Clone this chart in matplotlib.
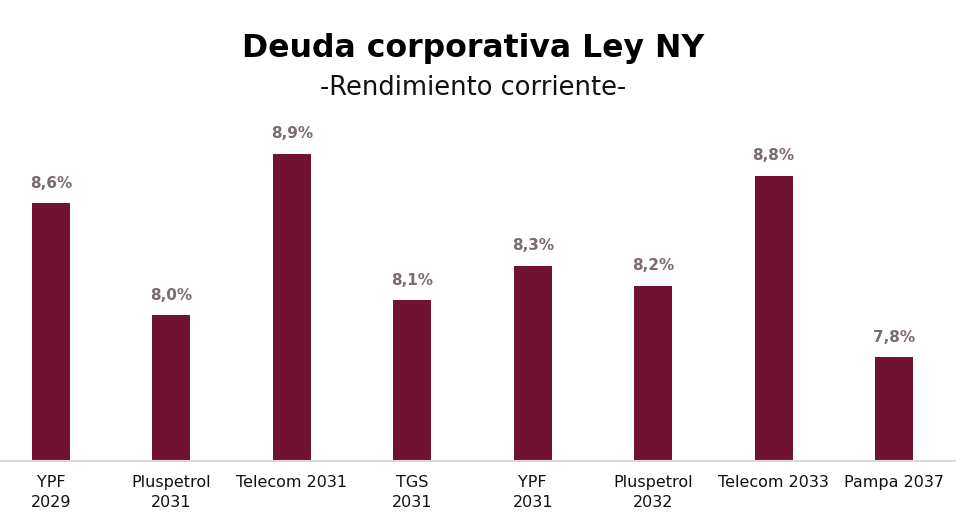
import matplotlib
matplotlib.use("Agg")
import matplotlib.pyplot as plt

categories = ["YPF\n2029", "Pluspetrol\n2031", "Telecom 2031", "TGS\n2031",
              "YPF\n2031", "Pluspetrol\n2032", "Telecom 2033", "Pampa 2037"]
values = [8.63, 8.02, 8.90, 8.10, 8.29, 8.18, 8.78, 7.79]

title = "Deuda corporativa Ley NY"
subtitle = "-Rendimiento corriente-"

BAR = "#721232"
LBL = "#7a6b70"
FONT = ["DejaVu Sans"]

fig = plt.figure(figsize=(9.7, 5.26), dpi=100)
ax = fig.add_axes([0.0, 0.1236, 0.9845, 0.6483])

x = list(range(len(categories)))
ax.bar(x, values, width=0.316, color=BAR, zorder=2)
ymin = 7.2245
ymax = ymin + (461 - 120) / 183.4
ax.set_ylim(ymin, ymax)
ax.set_xlim(-0.4235, 7.5065)

for xi, v in zip(x, values):
    ax.annotate(f"{v:.1f}%".replace(".", ","), (xi, v), xytext=(0, 9),
                textcoords="offset points", ha="center", va="bottom",
                fontsize=11, fontweight="bold", color=LBL, family=FONT)

for s in ["top", "right", "left"]:
    ax.spines[s].set_visible(False)
ax.spines["bottom"].set_color("#d9d9d9")
ax.spines["bottom"].set_linewidth(1.5)
ax.set_yticks([])
ax.set_xticks(x)
ax.set_xticklabels(categories, fontsize=11.5, family=FONT, color="#111111",
                   linespacing=1.45)
ax.tick_params(axis="x", length=0, pad=10)

fig.text(0.4876, 1 - 49 / 526, title, ha="center", va="center",
         fontsize=22.7, fontweight="bold", family=FONT, color="black")
fig.text(0.4876, 1 - 88 / 526, subtitle, ha="center", va="center",
         fontsize=18.5, family=FONT, color="#111111")

fig.savefig("out.png", dpi=100)
